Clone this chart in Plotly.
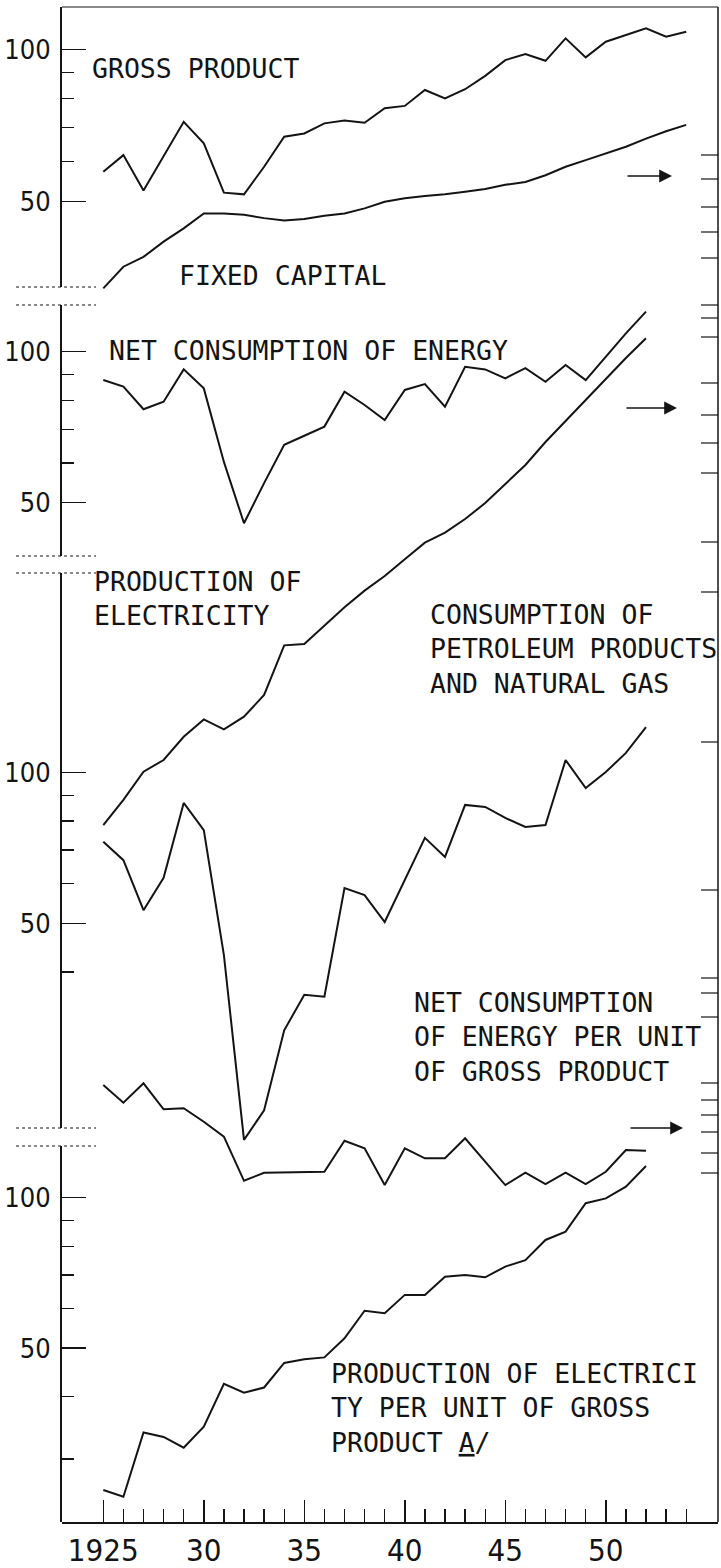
import math
import plotly.graph_objects as go

# ---------------- data (index values) ----------------
years_long = list(range(1925, 1955))   # gross product, fixed capital
years = list(range(1925, 1953))        # energy series

gross_product = [57.3, 61.8, 52.6, 61.6, 71.9, 65.2, 52.1, 51.7, 58.6, 67.2,
                 68.2, 71.4, 72.3, 71.6, 76.5, 77.3, 83.1, 80.0, 83.4, 88.6,
                 95.2, 97.9, 94.9, 105.1, 96.4, 103.5, 106.7, 110.0, 105.9, 108.3]
fixed_capital = [33.7, 37.2, 38.9, 41.7, 44.3, 47.4, 47.4, 47.1, 46.4, 45.9,
                 46.2, 46.9, 47.4, 48.5, 50.0, 50.8, 51.3, 51.7, 52.3, 53.0,
                 54.0, 54.7, 56.4, 58.6, 60.4, 62.2, 64.2, 66.6, 68.9, 70.9]
net_energy = [87.8, 85.2, 76.8, 79.5, 92.2, 84.5, 60.3, 45.5, 54.7, 65.2,
              68.0, 70.9, 83.2, 78.3, 73.1, 83.9, 86.2, 77.7, 93.3, 92.2,
              88.5, 92.7, 87.1, 94.1, 87.8, 97.7, 108.8, 120.2]
electricity = [78.5, 88.1, 100.3, 105.8, 117.7, 127.5, 121.8, 129.1, 142.6, 179.1,
               180.2, 195.7, 213.3, 230.2, 246.2, 265.9, 286.9, 300.4, 319.8, 344.2,
               375.6, 409.8, 455.4, 501.7, 552.5, 611.0, 669.8, 733.2]
petroleum_gas = [72.7, 66.8, 53.1, 61.6, 86.9, 76.7, 43.2, 18.5, 21.2, 30.6,
                 36.0, 35.7, 58.8, 56.9, 50.3, 61.0, 74.0, 67.8, 86.1, 85.3,
                 81.1, 77.8, 78.5, 105.8, 93.0, 100.1, 109.3, 123.1]
energy_per_unit = [168.1, 154.9, 169.4, 150.3, 151.0, 141.9, 132.5, 108.1, 112.2, 112.4,
                   112.4, 112.7, 130.0, 125.6, 106.0, 125.6, 119.9, 119.9, 131.5, 118.0,
                   106.0, 112.2, 106.5, 112.2, 106.5, 112.7, 124.6, 124.2]
electricity_per_unit = [26.0, 25.2, 33.9, 33.2, 31.6, 34.8, 42.4, 40.7, 41.7, 46.7,
                        47.5, 47.9, 52.3, 59.4, 58.7, 63.9, 63.9, 69.5, 70.0, 69.3,
                        72.8, 75.0, 82.3, 85.5, 97.5, 99.7, 105.2, 115.7]

x_tick_vals = [1925, 1930, 1935, 1940, 1945, 1950]
x_tick_text = ["1925", "30", "35", "40", "45", "50"]
y_tick_vals = [50, 100]
y_tick_text = ["50", "100"]

# ---------------- geometry ----------------
W, H = 721, 1568
L, R, T, B = 62, 718, 7, 1522
PW, PH = R - L, B - T


def fx(px):
    return (px - L) / PW


def fy(py):
    return (B - py) / PH


PX_1925, PX_PER_YEAR = 103.3, 20.1
year_left = 1925 - (PX_1925 - L) / PX_PER_YEAR
year_right = 1925 + (R - PX_1925) / PX_PER_YEAR

# each panel: pixel of 100, pixels per doubling, band top/bottom, minor ticks
panels = [
    dict(y100=49.3, d=152.4, top=7, bot=287, minor=[60, 70, 80, 90]),
    dict(y100=351.7, d=151.0, top=305, bot=556, minor=[60, 70, 80, 90]),
    dict(y100=772.3, d=151.0, top=573, bot=1128, minor=[40, 60, 70, 80, 90]),
    dict(y100=1197.7, d=150.4, top=1146, bot=1522, minor=[30, 40, 60, 70, 80, 90]),
]


def logval(p, py):
    return 2 + (p["y100"] - py) / p["d"] * math.log10(2)


INK = "#141414"
LABEL_FONT = dict(family="DejaVu Sans Mono, monospace", size=26.5, color=INK)
NUM_FONT = "Liberation Sans Narrow, DejaVu Sans Condensed, Liberation Sans, sans-serif"

fig = go.Figure()

series = [
    (years_long, gross_product, "y"),
    (years_long, fixed_capital, "y"),
    (years, net_energy, "y2"),
    (years, electricity, "y3"),
    (years, petroleum_gas, "y3"),
    (years, energy_per_unit, "y4"),
    (years, electricity_per_unit, "y4"),
]
for xs, ys, ax in series:
    fig.add_trace(go.Scatter(x=xs, y=ys, yaxis=ax, mode="lines",
                             line=dict(color=INK, width=2),
                             showlegend=False, hoverinfo="skip"))

# invisible anchor traces so each panel axis is drawn
for n in range(5, 9):
    fig.add_trace(go.Scatter(x=[1930], y=[100], yaxis=f"y{n}", mode="markers",
                             marker=dict(opacity=0), showlegend=False, hoverinfo="skip"))

layout = dict(
    template="none",
    width=W, height=H,
    margin=dict(l=L, r=W - R, t=T, b=H - B, pad=0),
    paper_bgcolor="white", plot_bgcolor="rgba(0,0,0,0)",
    showlegend=False,
    xaxis=dict(range=[year_left, year_right], domain=[0, 1], anchor="y",
               automargin=False,
               showline=True, linecolor=INK, linewidth=2,
               ticks="inside", ticklen=22, tickwidth=1.5, tickcolor=INK,
               tickvals=x_tick_vals, ticktext=x_tick_text,
               tickfont=dict(family=NUM_FONT, size=31, color=INK),
               ticklabelstandoff=0,
               minor=dict(tickvals=years_long, ticks="inside", ticklen=13,
                          tickwidth=1.3, tickcolor=INK, showgrid=False),
               showgrid=False, zeroline=False, fixedrange=True),
)

for i, p in enumerate(panels):
    n = i + 1
    key = "yaxis" if n == 1 else f"yaxis{n}"
    ax = dict(type="log", range=[logval(p, B), logval(p, T)], visible=False,
              automargin=False, showgrid=False, zeroline=False, fixedrange=True)
    if n == 1:
        ax["domain"] = [0, 1]
    else:
        ax["overlaying"] = "y"
    layout[key] = ax

    m = n + 4
    layout[f"yaxis{m}"] = dict(
        type="log", anchor="x", automargin=False,
        domain=[fy(p["bot"]), fy(p["top"])],
        range=[logval(p, p["bot"]), logval(p, p["top"])],
        showline=True, linecolor=INK, linewidth=2,
        ticks="inside", ticklen=24, tickwidth=1.5, tickcolor=INK,
        tickvals=y_tick_vals, ticktext=y_tick_text,
        tickfont=dict(family=NUM_FONT, size=27, color=INK),
        ticklabelstandoff=4,
        minor=dict(tickvals=p["minor"], ticks="inside", ticklen=12,
                   tickwidth=1.2, tickcolor=INK, showgrid=False),
        showgrid=False, zeroline=False, fixedrange=True,
    )

fig.update_layout(**layout)

# ---------------- series labels ----------------
labels = [
    ("GROSS PRODUCT", 91, 68),
    ("FIXED CAPITAL", 178, 276),
    ("NET CONSUMPTION OF ENERGY", 108, 350),
    ("PRODUCTION OF<br>ELECTRICITY", 93, 598),
    ("CONSUMPTION OF<br>PETROLEUM PRODUCTS<br>AND NATURAL GAS", 429, 649),
    ("NET CONSUMPTION<br>OF ENERGY PER UNIT<br>OF GROSS PRODUCT", 413, 1037),
    ("PRODUCTION OF ELECTRICI<br>TY PER UNIT OF GROSS<br>PRODUCT <u>A</u>/", 330, 1408),
]
for text, px, py in labels:
    fig.add_annotation(text=text, x=fx(px), y=fy(py), xref="paper", yref="paper",
                       xanchor="left", yanchor="middle", align="left",
                       showarrow=False, font=LABEL_FONT, borderpad=0)

# ---------------- scale arrows on the right ----------------
for tip_x, py, length in [(672, 176, 46), (677, 408, 52), (683, 1128, 54)]:
    fig.add_annotation(text="", x=fx(tip_x), y=fy(py), xref="paper", yref="paper",
                       ax=-length, ay=0, showarrow=True, arrowhead=2,
                       arrowsize=1.6, arrowwidth=1.6, arrowcolor=INK)

# ---------------- frame, panel caps and right-hand ticks ----------------
shapes = [
    dict(type="line", xref="paper", yref="paper", x0=0, x1=1, y0=1, y1=1,
         line=dict(color=INK, width=1.2)),
    dict(type="line", xref="paper", yref="paper", x0=1, x1=1, y0=0, y1=1,
         line=dict(color=INK, width=1.5)),
]
for py in [287, 305, 556, 573, 1128, 1146]:
    shapes.append(dict(type="line", xref="paper", yref="paper",
                       x0=fx(16), x1=fx(96), y0=fy(py), y1=fy(py),
                       line=dict(color=INK, width=1.2, dash="dot")))
right_ticks = [155, 179, 207, 232, 258, 305, 318, 337, 383, 415, 443, 473,
               542, 592, 742, 890, 978, 993, 1017, 1083, 1100, 1115, 1132, 1153, 1173]
for py in right_ticks:
    shapes.append(dict(type="line", xref="paper", yref="paper",
                       x0=fx(701), x1=fx(718), y0=fy(py), y1=fy(py),
                       line=dict(color=INK, width=1.2)))
fig.update_layout(shapes=shapes)

# the page's default 8px body margin would shift the whole figure; remove it
fig.write_html(
    "out.html",
    config={"displayModeBar": False, "staticPlot": True},
    post_script="document.body.style.margin='0';"
                "document.documentElement.style.overflow='hidden';",
)
